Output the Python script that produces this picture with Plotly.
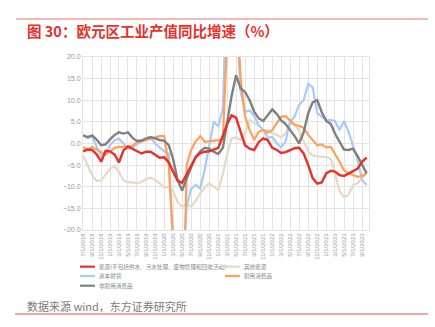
import pandas as pd
import plotly.graph_objects as go

# Monthly observations, Jul 2018 - Oct 2023
months = pd.date_range("2018-07-01", periods=64, freq="MS")

energy = [-1.8, -1.4, -1.5, -2.5, -4.2, -1.7, -1.8, -2.6, -4.4, -1.6,
          -0.7, -1.3, -1.9, -2.3, -1.9, -1.9, -2.6, -3.3, -3.2, -4.4,
          -6.5, -8.6, -9.1, -7.0, -5.0, -3.2, -2.2, -1.9, -1.8, -1.4,
          -1.0, 1.8, 4.4, 6.5, 6.0, 2.7, -0.4, -1.2, -1.5, 0.3,
          1.2, 0.8, -1.0, -1.5, -2.2, -2.0, -1.5, -1.1, -1.0, -2.3,
          -5.0, -8.0, -9.3, -9.0, -6.9, -6.3, -6.5, -7.3, -7.5, -7.0,
          -6.4, -5.8, -4.2, -3.3]

other = [-2.7, -5.0, -7.3, -8.7, -8.5, -7.2, -5.8, -5.3, -6.6, -8.5,
         -9.0, -9.0, -9.2, -8.9, -8.2, -7.9, -8.4, -9.2, -10.2, -10.0,
         -11.0, -13.5, -14.6, -14.0, -14.6, -13.3, -11.5, -10.2, -9.2, -10.0,
         -10.8, -7.0, -2.5, 1.2, 1.4, 0.8, 2.5, 5.4, 4.8, 4.2,
         3.1, 3.1, 2.4, 2.0, 1.4, 2.3, 4.6, 4.4, 3.0, 0.5,
         -1.8, -2.8, -3.0, -3.1, -3.1, -3.6, -6.9, -11.0, -12.4, -11.9,
         -9.6, -9.2, -8.0, -6.9]

capital = [1.9, 1.2, 1.6, -0.8, -3.0, -2.5, -0.3, 0.8, 1.1, 0.0,
           -1.2, -1.0, -0.3, 0.6, 1.0, 1.4, 0.0, -1.0, -1.8, -2.4,
           -22.0, -48.0, -30.0, -14.5, -10.5, -9.6, -10.4, -6.0, -0.5, 5.0,
           4.0, 8.0, 40.0, 45.0, 30.0, 12.0, 7.3, 7.6, 6.3, 4.2,
           3.1, 1.3, 1.5, 0.0, -0.9, 0.5, 5.0, 6.2, 9.0, 10.0,
           13.8, 13.0, 7.0, 6.2, 5.4, 5.4, 5.2, 3.1, 5.2, 2.7,
           -0.8, -3.8, -8.5, -9.6]

durable = [-0.8, -1.5, -0.8, -1.3, -2.0, -2.6, -1.8, -1.0, -0.8, -0.8,
           -0.7, -0.5, 0.3, 0.5, 0.8, 1.1, 1.3, 1.7, 1.7, -5.0,
           -22.0, -55.0, -55.0, -5.0, -1.5, 0.5, 1.7, 0.4, 0.5, 0.7,
           0.8, 1.0, 35.0, 50.0, 35.0, 15.0, 6.2, 3.1, 0.8, 2.7,
           3.1, 2.5, 3.1, 4.6, 6.2, 6.3, 5.2, 4.3, 4.1, 3.6,
           2.0, 0.8, -0.4, -0.2, -0.9, -0.8, -2.3, -4.2, -6.2, -6.9,
           -7.3, -7.7, -7.5, -6.9]

nondurable = [1.9, 1.5, 1.9, 0.9, -0.4, -0.2, 1.0, 2.0, 2.6, 2.3,
              2.6, 1.3, 0.6, 0.7, 1.2, 1.5, 1.2, 0.8, 0.6, -0.4,
              -3.5, -8.5, -10.9, -8.0, -5.5, -3.1, -1.8, -1.0, -1.2, -1.9,
              -2.4, -1.0, 4.5, 11.0, 15.8, 12.7, 11.9, 10.0, 7.3, 5.8,
              5.2, 6.5, 7.9, 6.8, 5.4, 4.5, 3.1, 1.7, 0.0, 2.6,
              7.0, 9.5, 10.0, 7.3, 5.2, 4.5, 2.3, 0.5, -1.4, -1.5,
              -1.2, -2.9, -5.0, -6.9]

names = ["能源(不包括供水、污水处理、废物管理和回收活动)", "其他能源",
         "资本财货", "耐用消费品", "非耐用消费品"]
series = [energy, other, capital, durable, nondurable]
colors = ["#e8302a", "#e6dac4", "#a8cbfa", "#ff9f5a", "#808080"]
widths = [2.4, 2.2, 2.2, 2.2, 2.4]

fig = go.Figure()
# draw red last so it stays on top
for idx in [1, 2, 3, 4, 0]:
    fig.add_trace(go.Scatter(
        x=months, y=series[idx], name=names[idx], mode="lines",
        line=dict(color=colors[idx], width=widths[idx]),
        showlegend=False,
    ))

grid = "#e3e3e3"
fig.update_layout(
    width=435, height=327,
    margin=dict(l=83, r=66, t=57, b=97),
    paper_bgcolor="white", plot_bgcolor="white",
    font=dict(family="Noto Sans CJK SC, Liberation Sans", color="#999999"),
    xaxis=dict(
        range=["2018-07-01", "2023-10-17"],
        tick0="2018-07-01", dtick="M2", tickformat="%-m/%-d/%Y",
        tickangle=-90, tickfont=dict(size=6, color="#9a9a9a", family="Liberation Sans"),
        showgrid=True, gridcolor=grid, gridwidth=1,
        showline=True, linecolor=grid, mirror=True, zeroline=False,
        ticks="", ticklen=0,
    ),
    yaxis=dict(
        range=[-20, 20], dtick=5, tick0=-20, tickformat=".1f",
        tickfont=dict(size=7, color="#9a9a9a", family="Liberation Sans"),
        showgrid=True, gridcolor=grid, gridwidth=1,
        showline=True, linecolor=grid, mirror=True, zeroline=False,
        ticks="", ticklen=0,
    ),
)

# Legend drawn as short line samples with labels
legend_pos = [(0, 0), (1, 0), (0, 1), (1, 1), (0, 2)]
col_x = [-0.0105, 0.4965]
row_y = [-0.212, -0.266, -0.322]
for idx, (c, r) in enumerate(legend_pos):
    x0 = col_x[c]
    y = row_y[r]
    fig.add_shape(type="line", xref="paper", yref="paper",
                  x0=x0, x1=x0 + 0.052, y0=y, y1=y,
                  line=dict(color=colors[idx], width=2.2))
    fig.add_annotation(xref="paper", yref="paper", x=x0 + 0.058, y=y,
                       text=names[idx], showarrow=False, xanchor="left",
                       yanchor="middle",
                       font=dict(size=5.6, color="#8a8a8a",
                                 family="Noto Sans CJK SC"))

# Title, header rule, footer rule and source note
fig.add_shape(type="line", xref="paper", yref="paper",
              x0=-0.234, x1=1.206, y0=1.2197, y1=1.2197,
              line=dict(color="#e8706a", width=1.2))
fig.add_annotation(xref="paper", yref="paper", x=-0.2028, y=1.156,
                   text="<b>图 30：欧元区工业产值同比增速（%）</b>",
                   showarrow=False, xanchor="left", yanchor="middle",
                   font=dict(size=14.5, color="#e5322b", family="Noto Sans CJK SC"))
fig.add_shape(type="line", xref="paper", yref="paper",
              x0=-0.238, x1=1.206, y0=-0.4855, y1=-0.4855,
              line=dict(color="#e8504a", width=1.2))
fig.add_annotation(xref="paper", yref="paper", x=-0.2028, y=-0.439,
                   text="数据来源 wind，东方证券研究所",
                   showarrow=False, xanchor="left", yanchor="middle",
                   font=dict(size=11, color="#7a7a7a", family="Noto Sans CJK SC"))

fig.write_html("out.html")
